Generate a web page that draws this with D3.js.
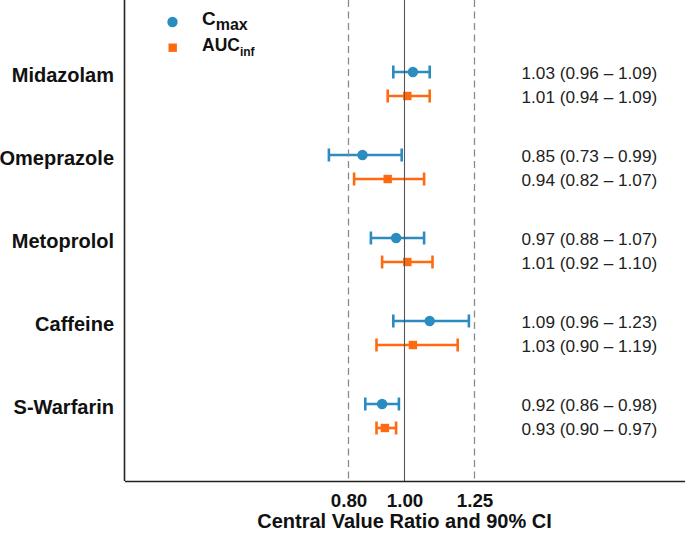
<!DOCTYPE html>
<html>
<head>
<meta charset="utf-8">
<script src="https://cdn.jsdelivr.net/npm/d3@7"></script>
<style>
  html, body { margin: 0; padding: 0; background: #fff; }
  svg { display: block; font-family: "Liberation Sans", Arial, sans-serif; }
</style>
</head>
<body>
<svg id="chart" width="685" height="539"></svg>
<script>
// ---- data ----
const drugs = ["Midazolam", "Omeprazole", "Metoprolol", "Caffeine", "S-Warfarin"];
const seriesNames = ["Cmax", "AUCinf"];
const cmaxRatio = [1.03, 0.85, 0.97, 1.09, 0.92];
const cmaxLower = [0.96, 0.73, 0.88, 0.96, 0.86];
const cmaxUpper = [1.09, 0.99, 1.07, 1.23, 0.98];
const aucRatio  = [1.01, 0.94, 1.01, 1.03, 0.93];
const aucLower  = [0.94, 0.82, 0.92, 0.90, 0.90];
const aucUpper  = [1.09, 1.07, 1.10, 1.19, 0.97];
const tickValues = [0.80, 1.00, 1.25];
const refLines = [0.80, 1.00, 1.25];

const colors = { Cmax: "#2b8cc0", AUCinf: "#ff6a10" };

const rows = [];
drugs.forEach((d, i) => {
  rows.push({ drug: d, series: "Cmax", r: cmaxRatio[i], lo: cmaxLower[i], hi: cmaxUpper[i] });
  rows.push({ drug: d, series: "AUCinf", r: aucRatio[i], lo: aucLower[i], hi: aucUpper[i] });
});

const svg = d3.select("#chart");
const plot = { left: 124.5, right: 684.5, top: 0, bottom: 481 };

const x = d3.scaleLinear().domain([0, 2]).range([plot.left, plot.right]);
const y = d3.scalePoint().domain(drugs).range([72, 404]);
const yOff = d3.scalePoint().domain(seriesNames).range([0, 24]);

// bars
const g = svg.append("g");
const capH = 6.5;
const bar = g.selectAll("g.bar").data(rows).join("g").attr("class", "bar")
  .attr("stroke", d => colors[d.series]).attr("stroke-width", 2.6);
bar.append("line")
  .attr("x1", d => x(d.lo)).attr("x2", d => x(d.hi))
  .attr("y1", d => y(d.drug) + yOff(d.series)).attr("y2", d => y(d.drug) + yOff(d.series));
bar.append("line")
  .attr("x1", d => x(d.lo)).attr("x2", d => x(d.lo))
  .attr("y1", d => y(d.drug) + yOff(d.series) - capH).attr("y2", d => y(d.drug) + yOff(d.series) + capH);
bar.append("line")
  .attr("x1", d => x(d.hi)).attr("x2", d => x(d.hi))
  .attr("y1", d => y(d.drug) + yOff(d.series) - capH).attr("y2", d => y(d.drug) + yOff(d.series) + capH);

g.selectAll("circle.pt").data(rows.filter(d => d.series === "Cmax")).join("circle")
  .attr("class", "pt")
  .attr("cx", d => x(d.r)).attr("cy", d => y(d.drug) + yOff(d.series)).attr("r", 5.2)
  .attr("fill", colors.Cmax);
g.selectAll("rect.pt").data(rows.filter(d => d.series === "AUCinf")).join("rect")
  .attr("class", "pt")
  .attr("x", d => x(d.r) - 4.2).attr("y", d => y(d.drug) + yOff(d.series) - 4.2)
  .attr("width", 8.4).attr("height", 8.4)
  .attr("fill", colors.AUCinf);

// reference lines
svg.selectAll("line.ref").data(refLines).join("line")
  .attr("class", "ref")
  .attr("x1", d => x(d)).attr("x2", d => x(d))
  .attr("y1", plot.top).attr("y2", plot.bottom)
  .attr("stroke", d => d === 1 ? "#555" : "#8a8a8a")
  .attr("stroke-width", d => d === 1 ? 1.1 : 1.3)
  .attr("stroke-dasharray", d => d === 1 ? null : "7,4.5");

// right-side text labels
const fmt = d3.format(".2f");
svg.selectAll("text.val").data(rows).join("text")
  .attr("class", "val")
  .attr("x", 521.5)
  .attr("y", d => y(d.drug) + yOff(d.series) + 7)
  .attr("font-size", 17.2)
  .attr("fill", "#222")
  .text(d => `${fmt(d.r)} (${fmt(d.lo)} \u2013 ${fmt(d.hi)})`);

// x axis
const xAxis = d3.axisBottom(x).tickValues(tickValues).tickFormat(d3.format(".2f"))
  .tickSize(0).tickPadding(13);
const xg = svg.append("g").attr("transform", `translate(0,${plot.bottom})`).call(xAxis);
xg.select(".domain").attr("stroke", "#222").attr("stroke-width", 1.6);
xg.selectAll("text").attr("font-size", 18.8).attr("font-weight", "bold")
  .attr("font-family", "Liberation Sans, Arial, sans-serif").attr("fill", "#111");

// y axis
const yAxis = d3.axisLeft(y).tickSize(0).tickPadding(10.5);
const yg = svg.append("g").attr("transform", `translate(${plot.left},0)`).call(yAxis);
yg.select(".domain").attr("d", `M0,${plot.top}V${plot.bottom}`).attr("stroke", "#222").attr("stroke-width", 1.6);
yg.selectAll("text").attr("font-size", 20).attr("font-weight", "bold")
  .attr("font-family", "Liberation Sans, Arial, sans-serif").attr("fill", "#111")
  .attr("dy", "0.45em");

// x title
svg.append("text")
  .attr("x", (plot.left + plot.right) / 2).attr("y", 528)
  .attr("text-anchor", "middle").attr("font-size", 20).attr("font-weight", "bold")
  .attr("fill", "#111")
  .text("Central Value Ratio and 90% CI");

// legend
const lg = svg.append("g");
lg.append("circle").attr("cx", 172.5).attr("cy", 22).attr("r", 5.2).attr("fill", colors.Cmax);
lg.append("rect").attr("x", 168.5).attr("y", 43.5).attr("width", 8.4).attr("height", 8.4).attr("fill", colors.AUCinf);
const t1 = lg.append("text").attr("x", 202).attr("y", 25).attr("font-weight", "bold").attr("fill", "#111");
t1.append("tspan").attr("font-size", 19).text("C");
t1.append("tspan").attr("font-size", 16).attr("dy", 5).text("max");
const t2 = lg.append("text").attr("x", 202).attr("y", 51).attr("font-weight", "bold").attr("fill", "#111");
t2.append("tspan").attr("font-size", 17.5).text("AUC");
t2.append("tspan").attr("font-size", 12).attr("dy", 5).text("inf");
</script>
</body>
</html>
